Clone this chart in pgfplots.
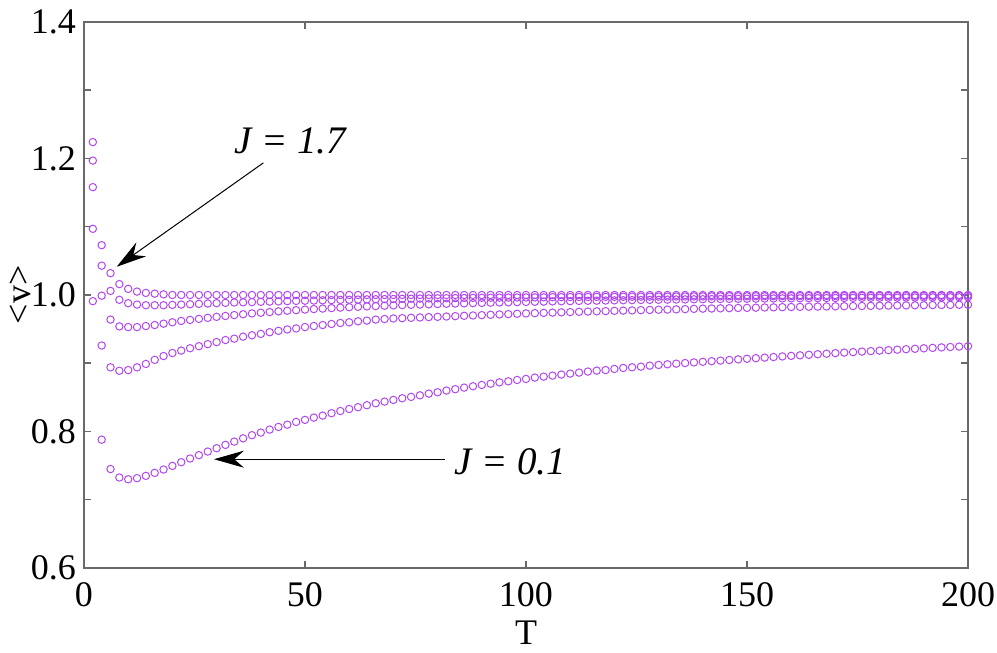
\documentclass[border=0pt]{standalone}
\usepackage{fontspec}
\setmainfont{Liberation Serif}
\usepackage{pgfplots}
\pgfplotsset{compat=1.18}
\usetikzlibrary{arrows.meta}
\definecolor{mk}{RGB}{176,72,240}
\definecolor{axgray}{RGB}{105,105,105}
\begin{document}
\begin{tikzpicture}
\path[use as bounding box] (-42pt,-42.5pt) rectangle (456.5pt,284pt);
\begin{axis}[
  at={(0,0)}, anchor=south west,
  scale only axis, width=442pt, height=273pt,
  xmin=0, xmax=200, ymin=0.6, ymax=1.4,
  xtick={0,50,100,150,200},
  ytick={0.6,0.8,1.0,1.2,1.4},
  minor ytick={0.7,0.9,1.1,1.3},
  tick align=inside,
  major tick length=3.5pt, minor tick length=3.5pt,
  axis line style={axgray, line width=0.75pt},
  every tick/.style={axgray, line width=0.75pt},
  /pgf/number format/assume math mode=true,
  ticklabel style={font=\fontsize{18}{20}\selectfont},
  xticklabel style={yshift=-3.5pt},
  yticklabel style={xshift=-0.5pt, /pgf/number format/.cd, fixed, fixed zerofill, precision=1},
  xlabel={T}, ylabel={<v>},
  label style={font=\fontsize{18}{20}\selectfont},
  xlabel style={at={(axis description cs:0.5,-0.119)}, anchor=center, inner sep=0pt},
  ylabel style={at={(axis description cs:-0.0724,0.5)}, anchor=center},
  clip=false,
]
% J = 1.7
\addplot[only marks, mark=o, mark size=1.85pt, color=mk, mark options={line width=0.5pt}] coordinates {
(2,1.224)(4,1.073)(6,1.032)(8,1.016)(10,1.009)(12,1.005)(14,1.003)(16,1.002)(18,1.001)(20,1.000)
(22,1.000)(24,1.000)(26,1.000)(28,1.000)(30,1.000)(32,1.000)(34,1.000)(36,1.000)(38,1.000)(40,1.000)
(42,1.000)(44,1.000)(46,1.000)(48,1.000)(50,1.000)(52,1.000)(54,1.000)(56,1.000)(58,1.000)(60,1.000)
(62,1.000)(64,1.000)(66,1.000)(68,1.000)(70,1.000)(72,1.000)(74,1.000)(76,1.000)(78,1.000)(80,1.000)
(82,1.000)(84,1.000)(86,1.000)(88,1.000)(90,1.000)(92,1.000)(94,1.000)(96,1.000)(98,1.000)(100,1.000)
(102,1.000)(104,1.000)(106,1.000)(108,1.000)(110,1.000)(112,1.000)(114,1.000)(116,1.000)(118,1.000)(120,1.000)
(122,1.000)(124,1.000)(126,1.000)(128,1.000)(130,1.000)(132,1.000)(134,1.000)(136,1.000)(138,1.000)(140,1.000)
(142,1.000)(144,1.000)(146,1.000)(148,1.000)(150,1.000)(152,1.000)(154,1.000)(156,1.000)(158,1.000)(160,1.000)
(162,1.000)(164,1.000)(166,1.000)(168,1.000)(170,1.000)(172,1.000)(174,1.000)(176,1.000)(178,1.000)(180,1.000)
(182,1.000)(184,1.000)(186,1.000)(188,1.000)(190,1.000)(192,1.000)(194,1.000)(196,1.000)(198,1.000)(200,1.000)
};
% J = 1.3
\addplot[only marks, mark=o, mark size=1.85pt, color=mk, mark options={line width=0.5pt}] coordinates {
(2,1.197)(4,1.043)(6,1.006)(8,0.993)(10,0.988)(12,0.986)(14,0.985)(16,0.985)(18,0.985)(20,0.9855)
(22,0.986)(24,0.9865)(26,0.987)(28,0.9875)(30,0.988)(32,0.9885)(34,0.989)(36,0.9893)(38,0.9896)(40,0.990)
(42,0.9903)(44,0.9906)(46,0.991)(48,0.9913)(50,0.9916)(52,0.9919)(54,0.9922)(56,0.9925)(58,0.9928)(60,0.993)
(62,0.9933)(64,0.9936)(66,0.9938)(68,0.994)(70,0.9942)(72,0.9944)(74,0.9946)(76,0.9948)(78,0.995)(80,0.9952)
(82,0.9953)(84,0.9955)(86,0.9956)(88,0.9958)(90,0.9959)(92,0.996)(94,0.9961)(96,0.9962)(98,0.9963)(100,0.9964)
(102,0.9965)(104,0.9966)(106,0.9968)(108,0.9969)(110,0.997)(112,0.9971)(114,0.9971)(116,0.9972)(118,0.9973)(120,0.9973)
(122,0.9974)(124,0.9975)(126,0.9975)(128,0.9976)(130,0.9976)(132,0.9977)(134,0.9978)(136,0.9978)(138,0.9979)(140,0.9979)
(142,0.998)(144,0.998)(146,0.9981)(148,0.9981)(150,0.9981)(152,0.9982)(154,0.9982)(156,0.9983)(158,0.9983)(160,0.9983)
(162,0.9984)(164,0.9984)(166,0.9984)(168,0.9985)(170,0.9985)(172,0.9985)(174,0.9986)(176,0.9986)(178,0.9986)(180,0.9987)
(182,0.9987)(184,0.9987)(186,0.9988)(188,0.9988)(190,0.9988)(192,0.9989)(194,0.9989)(196,0.9989)(198,0.999)(200,0.999)
};
% J = 0.9
\addplot[only marks, mark=o, mark size=1.85pt, color=mk, mark options={line width=0.5pt}] coordinates {
(2,1.158)(4,0.999)(6,0.964)(8,0.954)(10,0.953)(12,0.953)(14,0.9545)(16,0.956)(18,0.958)(20,0.960)
(22,0.962)(24,0.9635)(26,0.965)(28,0.9665)(30,0.968)(32,0.9693)(34,0.9706)(36,0.9718)(38,0.973)(40,0.974)
(42,0.975)(44,0.976)(46,0.9769)(48,0.9778)(50,0.9786)(52,0.9794)(54,0.9801)(56,0.9808)(58,0.9815)(60,0.9821)
(62,0.9827)(64,0.9833)(66,0.9838)(68,0.9843)(70,0.9848)(72,0.9852)(74,0.9856)(76,0.986)(78,0.9864)(80,0.9868)
(82,0.9872)(84,0.9875)(86,0.9878)(88,0.9881)(90,0.9884)(92,0.9887)(94,0.989)(96,0.9893)(98,0.9896)(100,0.9898)
(102,0.9901)(104,0.9903)(106,0.9906)(108,0.9908)(110,0.991)(112,0.9913)(114,0.9915)(116,0.9917)(118,0.9919)(120,0.9921)
(122,0.9923)(124,0.9925)(126,0.9927)(128,0.9929)(130,0.993)(132,0.9932)(134,0.9934)(136,0.9935)(138,0.9937)(140,0.9938)
(142,0.994)(144,0.9941)(146,0.9943)(148,0.9944)(150,0.9945)(152,0.9946)(154,0.9948)(156,0.9949)(158,0.995)(160,0.9951)
(162,0.9952)(164,0.9953)(166,0.9954)(168,0.9955)(170,0.9956)(172,0.9957)(174,0.9958)(176,0.9959)(178,0.996)(180,0.996)
(182,0.9961)(184,0.9962)(186,0.9963)(188,0.9963)(190,0.9964)(192,0.9965)(194,0.9965)(196,0.9966)(198,0.9967)(200,0.9967)
};
% J = 0.5
\addplot[only marks, mark=o, mark size=1.85pt, color=mk, mark options={line width=0.5pt}] coordinates {
(2,1.097)(4,0.926)(6,0.894)(8,0.889)(10,0.890)(12,0.894)(14,0.899)(16,0.905)(18,0.9105)(20,0.915)
(22,0.9185)(24,0.922)(26,0.925)(28,0.928)(30,0.931)(32,0.934)(34,0.936)(36,0.939)(38,0.941)(40,0.943)
(42,0.9455)(44,0.9475)(46,0.9495)(48,0.951)(50,0.953)(52,0.9545)(54,0.956)(56,0.9575)(58,0.959)(60,0.960)
(62,0.9615)(64,0.9625)(66,0.964)(68,0.9648)(70,0.9656)(72,0.9661)(74,0.9666)(76,0.9671)(78,0.9676)(80,0.968)
(82,0.9685)(84,0.969)(86,0.9695)(88,0.970)(90,0.9705)(92,0.971)(94,0.9715)(96,0.972)(98,0.9725)(100,0.973)
(102,0.9734)(104,0.9738)(106,0.9742)(108,0.9746)(110,0.975)(112,0.9754)(114,0.9757)(116,0.9761)(118,0.9764)(120,0.9768)
(122,0.9771)(124,0.9774)(126,0.9778)(128,0.9781)(130,0.9784)(132,0.9787)(134,0.979)(136,0.9793)(138,0.9797)(140,0.980)
(142,0.9802)(144,0.9805)(146,0.9807)(148,0.981)(150,0.9812)(152,0.9814)(154,0.9817)(156,0.9819)(158,0.9822)(160,0.9824)
(162,0.9826)(164,0.9828)(166,0.983)(168,0.9832)(170,0.9834)(172,0.9836)(174,0.9838)(176,0.9839)(178,0.9841)(180,0.9843)
(182,0.9845)(184,0.9846)(186,0.9848)(188,0.9849)(190,0.9851)(192,0.9852)(194,0.9854)(196,0.9855)(198,0.9857)(200,0.9858)
};
% J = 0.1
\addplot[only marks, mark=o, mark size=1.85pt, color=mk, mark options={line width=0.5pt}] coordinates {
(2,0.991)(4,0.788)(6,0.745)(8,0.7326)(10,0.730)(12,0.7316)(14,0.735)(16,0.7394)(18,0.7443)(20,0.7496)
(22,0.755)(24,0.7604)(26,0.7653)(28,0.7706)(30,0.7755)(32,0.7804)(34,0.7852)(36,0.790)(38,0.7946)(40,0.7984)
(42,0.8028)(44,0.8067)(46,0.810)(48,0.814)(50,0.817)(52,0.8204)(54,0.8233)(56,0.8268)(58,0.830)(60,0.833)
(62,0.8356)(64,0.8385)(66,0.8414)(68,0.8438)(70,0.8463)(72,0.8487)(74,0.8507)(76,0.853)(78,0.8555)(80,0.8575)
(82,0.860)(84,0.862)(86,0.8643)(88,0.8663)(90,0.8682)(92,0.870)(94,0.872)(96,0.8736)(98,0.8755)(100,0.877)
(102,0.879)(104,0.8804)(106,0.8819)(108,0.8834)(110,0.8848)(112,0.8863)(114,0.8878)(116,0.8892)(118,0.890)(120,0.8917)
(122,0.8931)(124,0.8941)(126,0.895)(128,0.8965)(130,0.8975)(132,0.8985)(134,0.8994)(136,0.9003)(138,0.9012)(140,0.9021)
(142,0.903)(144,0.9039)(146,0.9048)(148,0.9057)(150,0.9066)(152,0.9074)(154,0.9083)(156,0.9091)(158,0.910)(160,0.9108)
(162,0.9116)(164,0.9124)(166,0.9132)(168,0.914)(170,0.9148)(172,0.9156)(174,0.9163)(176,0.9171)(178,0.9178)(180,0.9185)
(182,0.9192)(184,0.9199)(186,0.9206)(188,0.9212)(190,0.9219)(192,0.9225)(194,0.9232)(196,0.9238)(198,0.9244)(200,0.925)
};
\node[font=\fontsize{19.5}{22}\selectfont\itshape] at (axis cs:46.6,1.2255) {J = 1.7};
\draw[black, line width=0.5pt, -{Stealth[length=15pt,width=8.5pt]}] (axis cs:40.6,1.1937) -- (axis cs:7.4,1.0414);
\node[font=\fontsize{19.5}{22}\selectfont\itshape] at (axis cs:96.4,0.7555) {J = 0.1};
\draw[black, line width=0.5pt, -{Stealth[length=15pt,width=8.5pt]}] (axis cs:81.7,0.7594) -- (axis cs:29.4,0.7594);
\end{axis}
\end{tikzpicture}
\end{document}
